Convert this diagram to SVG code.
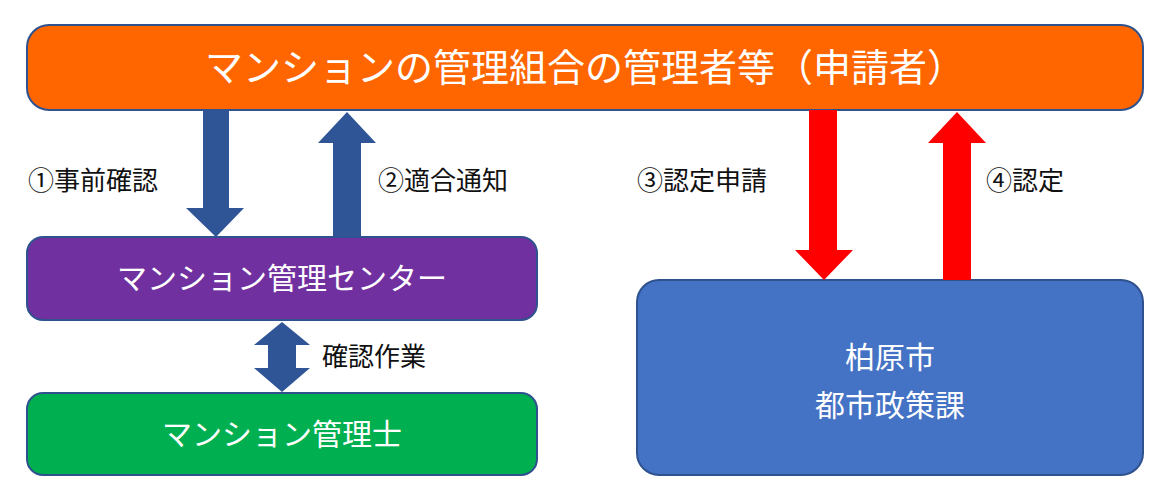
<svg xmlns="http://www.w3.org/2000/svg" width="1172" height="503" viewBox="0 0 1172 503">
<style>
text{font-family:"Noto Sans CJK JP","Noto Sans",sans-serif}
.w{fill:#fff;text-anchor:middle}
.l{fill:#111;font-size:26px}
.box{stroke:#2f528f;stroke-width:2}
.b{fill:#2f5597}
.r{fill:#ff0000}
</style>
<rect width="1172" height="503" fill="#fff"/>
<g id="applicant"><rect class="box" x="27" y="25" width="1116" height="85" rx="22" fill="#ff6600"/><text class="w" x="585" y="81" font-size="38">マンションの管理組合の管理者等（申請者）</text></g>
<g id="center"><rect class="box" x="27" y="237" width="510" height="83" rx="16" fill="#7030a0"/><text class="w" x="282" y="289" font-size="30">マンション管理センター</text></g>
<g id="shi"><rect class="box" x="27" y="393" width="510" height="82" rx="16" fill="#00b050"/><text class="w" x="282" y="445" font-size="30">マンション管理士</text></g>
<g id="city"><rect class="box" x="637" y="280" width="506" height="195" rx="22" fill="#4472c4"/><text class="w" x="890" y="368" font-size="30">柏原市</text><text class="w" x="890" y="416" font-size="30">都市政策課</text></g>
<g id="connectors">
<polygon class="b" points="203,110 229,110 229,208 244,208 216,237 186,208 203,208"/>
<polygon class="b" points="333,237 361,237 361,143 376,143 347,112 318,143 333,143"/>
<polygon class="b" points="282,322 310,345 296,345 296,368 310,368 282,392 254,368 268,368 268,345 254,345"/>
<polygon class="r" points="809,110 837,110 837,250 853,250 824,280 795,250 809,250"/>
<polygon class="r" points="943,280 971,280 971,143 986,143 957,112 928,143 943,143"/>
</g>
<text class="l" x="28" y="190">①事前確認</text>
<text class="l" x="378" y="190">②適合通知</text>
<text class="l" x="637" y="190">③認定申請</text>
<text class="l" x="986" y="190">④認定</text>
<text class="l" x="322" y="366">確認作業</text>
</svg>
